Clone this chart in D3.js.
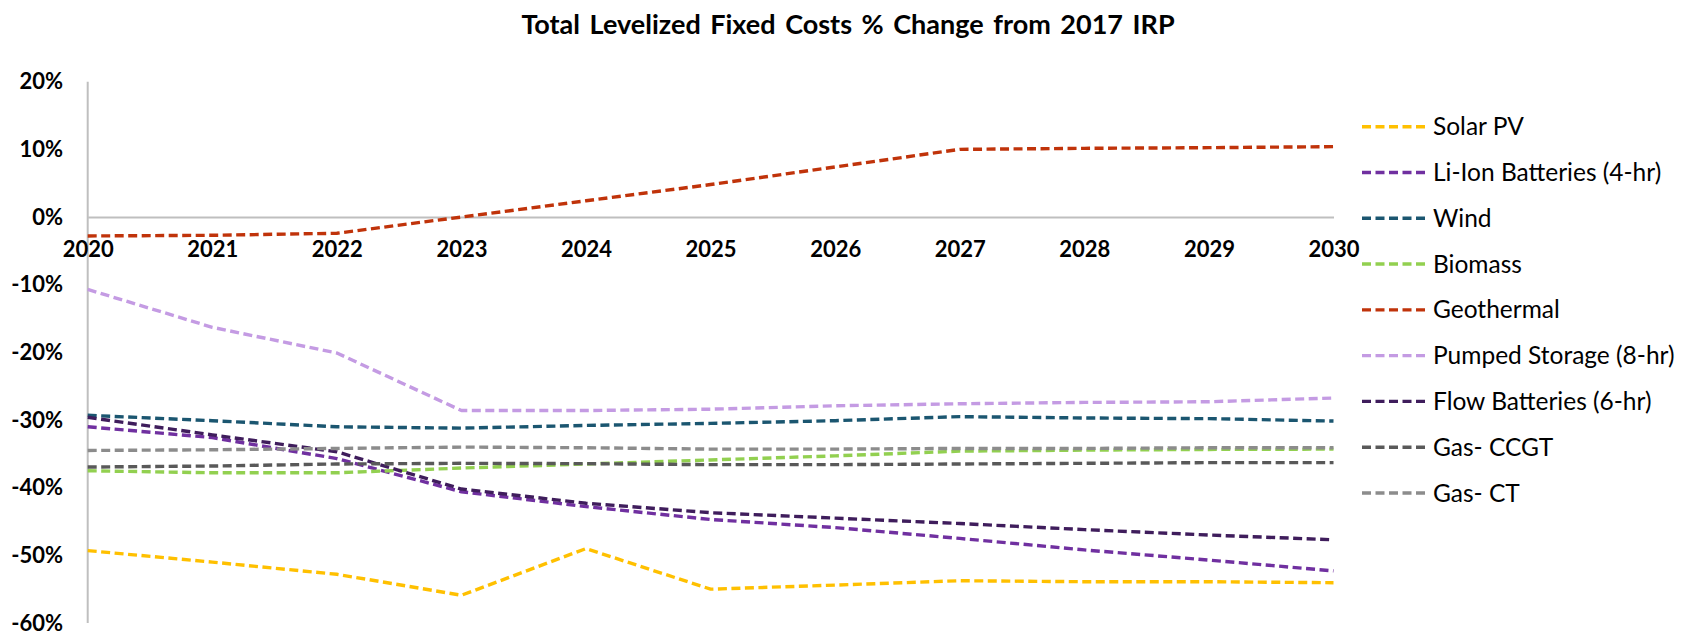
<!DOCTYPE html>
<html>
<head>
<meta charset="utf-8">
<script src="https://cdn.jsdelivr.net/npm/d3@7"></script>
<style>
  html, body { margin: 0; padding: 0; background: #fff; }
  svg { display: block; }
  text { font-family: Lato, "Open Sans", sans-serif; fill: #000; }
</style>
</head>
<body>
<svg id="chart" width="1686" height="635"></svg>
<script>
const title = "Total Levelized Fixed Costs % Change from 2017 IRP";
const years = [2020, 2021, 2022, 2023, 2024, 2025, 2026, 2027, 2028, 2029, 2030];
const yTicks = [20, 10, 0, -10, -20, -30, -40, -50, -60];
const seriesNames = ["Solar PV", "Li-Ion Batteries (4-hr)", "Wind", "Biomass", "Geothermal",
  "Pumped Storage (8-hr)", "Flow Batteries (6-hr)", "Gas- CCGT", "Gas- CT"];
const seriesColors = ["#FFC000", "#7030A0", "#1B5670", "#92D050", "#C0330A",
  "#C49BE3", "#3F1D5C", "#595959", "#8C8C8C"];

const solarPV      = [-49.3, -51.0, -52.8, -55.9, -49.0, -55.0, -54.4, -53.75, -53.9, -53.9, -54.05];
const liIon        = [-31.0, -32.6, -35.7, -40.6, -42.8, -44.7, -45.9, -47.5, -49.2, -50.7, -52.3];
const wind         = [-29.3, -30.1, -31.0, -31.2, -30.8, -30.5, -30.1, -29.5, -29.7, -29.8, -30.15];
const biomass      = [-37.5, -37.8, -37.8, -37.1, -36.5, -35.9, -35.3, -34.6, -34.45, -34.35, -34.3];
const geothermal   = [-2.8, -2.7, -2.4, 0.0, 2.4, 4.8, 7.4, 10.0, 10.15, 10.25, 10.4];
const pumped       = [-10.7, -16.3, -20.1, -28.6, -28.6, -28.4, -27.9, -27.6, -27.4, -27.3, -26.75];
const flowBatt     = [-29.6, -32.2, -34.7, -40.2, -42.3, -43.7, -44.5, -45.3, -46.2, -47.0, -47.7];
const gasCCGT      = [-36.95, -36.8, -36.5, -36.4, -36.45, -36.6, -36.6, -36.5, -36.4, -36.3, -36.3];
const gasCT        = [-34.5, -34.4, -34.2, -34.0, -34.1, -34.3, -34.3, -34.2, -34.2, -34.1, -34.1];

const seriesValues = [solarPV, liIon, wind, biomass, geothermal, pumped, flowBatt, gasCCGT, gasCT];

const svg = d3.select("#chart");

const x = d3.scaleLinear().domain([2020, 2030]).range([87.7, 1333.5]);
const y = d3.scaleLinear().domain([-60, 20]).range([623, 81.7]);

// Title
svg.append("text")
  .attr("x", 848).attr("y", 34)
  .attr("text-anchor", "middle")
  .style("font-size", "27px").style("font-weight", "700")
  .style("word-spacing", "3px")
  .text(title);

// Vertical axis line
svg.append("line")
  .attr("x1", x(2020)).attr("x2", x(2020))
  .attr("y1", y(20)).attr("y2", y(-60))
  .attr("stroke", "#BFBFBF").attr("stroke-width", 2);

// Y axis labels
const yAxis = d3.axisLeft(y).tickValues(yTicks).tickSize(0).tickPadding(0)
  .tickFormat(d => d + "%");
const gy = svg.append("g").attr("transform", "translate(63,0)").call(yAxis);
gy.select(".domain").remove();
gy.selectAll("text").style("font-size", "22px").style("font-weight", "700")
  .style("font-family", "Lato, sans-serif").attr("fill", "#000");

// Zero line + x labels
const xAxis = d3.axisBottom(x).tickValues(years).tickSize(0).tickPadding(24)
  .tickFormat(d3.format("d"));
const gx = svg.append("g").attr("transform", `translate(0,${y(0)})`).call(xAxis);
gx.select(".domain").attr("stroke", "#BFBFBF").attr("stroke-width", 2);
gx.selectAll("text").style("font-size", "22px").style("font-weight", "700")
  .style("font-family", "Lato, sans-serif").attr("fill", "#000");

// Lines
const line = d3.line().x((d, i) => x(years[i])).y(d => y(d));
seriesValues.forEach((vals, i) => {
  svg.append("path")
    .datum(vals)
    .attr("d", line)
    .attr("fill", "none")
    .attr("stroke", seriesColors[i])
    .attr("stroke-width", 3.4)
    .attr("stroke-dasharray", "9,4.5")
    .attr("stroke-linejoin", "round");
});

// Legend
const legY = d3.scaleLinear().domain([0, 8]).range([126.7, 493]);
seriesNames.forEach((name, i) => {
  const g = svg.append("g").attr("transform", `translate(0,${legY(i)})`);
  g.append("line").attr("x1", 1362).attr("x2", 1425).attr("y1", 0).attr("y2", 0)
    .attr("stroke", seriesColors[i]).attr("stroke-width", 3.4)
    .attr("stroke-dasharray", "9,4.5");
  g.append("text").attr("x", 1433).attr("y", 0).attr("dy", "0.35em")
    .style("font-size", "24.5px").text(name);
});
</script>
</body>
</html>
